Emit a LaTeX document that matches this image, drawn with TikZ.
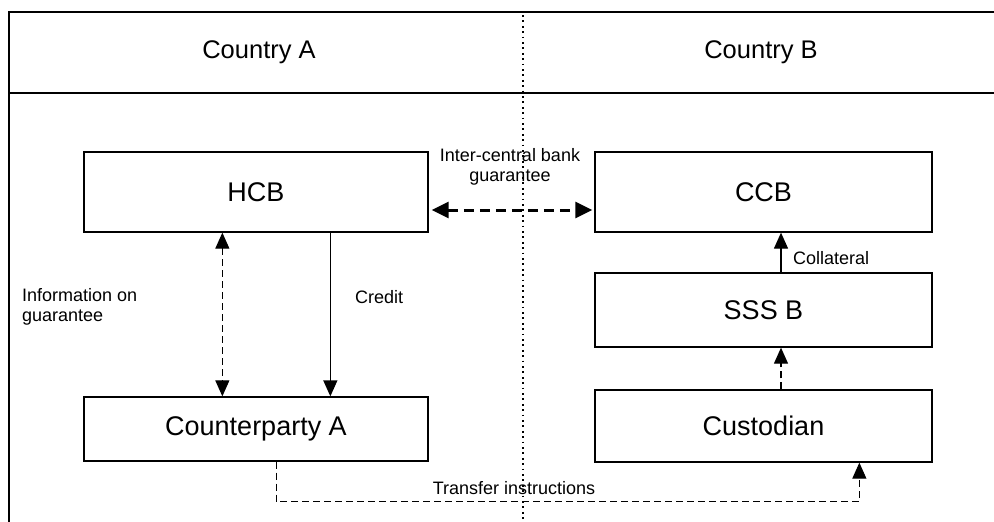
\documentclass[tikz,border=0pt]{standalone}
\usepackage{fontspec}
\setmainfont{Liberation Sans}
\usetikzlibrary{arrows.meta}
\begin{document}
\begin{tikzpicture}[x=1pt,y=-1pt,
  frameline/.style={line width=2.4pt,black},
  divider/.style={line width=1.7pt,dash pattern=on 1.7pt off 3.7pt},
  box/.style={draw,line width=1.3pt,rectangle,inner sep=0pt,
    font=\fontsize{27}{32}\selectfont},
  lbl/.style={font=\fontsize{18}{20}\selectfont,inner sep=0pt},
  head/.style={font=\fontsize{25.5}{30}\selectfont,inner sep=0pt},
  tip/.style={-{Triangle[length=16pt,width=14pt]}},
  twotip/.style={{Triangle[length=16pt,width=14pt]}-{Triangle[length=16pt,width=14pt]}},
  thin dash/.style={line width=1.1pt,dash pattern=on 7pt off 4pt},
  thick dash/.style={line width=3pt,dash pattern=on 10pt off 6pt,
    {Triangle[length=17pt,width=16pt]}-{Triangle[length=17pt,width=16pt]}}]
\useasboundingbox (0,0) rectangle (994,522);

% outer frame and header row
\draw[frameline] (994,12) -- (9,12) -- (9,522);
\draw[frameline] (9,93) -- (994,93);
\draw[divider] (523,15) -- (523,522);

\node[head] (ctryA) at (259,52) {Country A};
\node[head] (ctryB) at (761,52) {Country B};

% institutions
\node[box,minimum width=344pt,minimum height=80pt] (HCB) at (256,192) {HCB};
\node[box,minimum width=337pt,minimum height=80pt] (CCB) at (763.5,192) {CCB};
\node[box,minimum width=337pt,minimum height=74pt] (SSS) at (763.5,310) {SSS B};
\node[box,minimum width=337pt,minimum height=72pt] (Cust) at (763.5,426) {Custodian};
\node[box,minimum width=344pt,minimum height=64pt] (CP) at (256,429) {Counterparty A};

% connectors
\draw[thick dash,shorten <=3pt,shorten >=2pt] ([yshift=-18pt]HCB.east) -- ([yshift=-18pt]CCB.west);
\draw[thin dash,twotip] ([xshift=139pt]HCB.south west) -- ([xshift=139pt]CP.north west);
\draw[line width=1.3pt,tip] ([xshift=247pt]HCB.south west) -- ([xshift=247pt]CP.north west);
\draw[line width=1.3pt,tip] ([xshift=17.5pt]SSS.north) -- ([xshift=17.5pt]CCB.south);
\draw[thin dash,tip] ([xshift=17.5pt]Cust.north) -- ([xshift=17.5pt]SSS.south);
\draw[thin dash,tip] ([xshift=193pt]CP.south west) -- ++(0,40) -| ([xshift=265pt]Cust.south west);

% connector labels
\node[lbl,align=center] (lgua) at (510,167) {Inter-central bank\\guarantee};
\node[lbl,align=left,anchor=west] (linfo) at (22,307) {Information on\\guarantee};
\node[lbl,anchor=west] (lcred) at (355,297) {Credit};
\node[lbl,anchor=west] (lcoll) at (793,258) {Collateral};
\node[lbl] (ltrans) at (514,488) {Transfer instructions};
\end{tikzpicture}
\end{document}
